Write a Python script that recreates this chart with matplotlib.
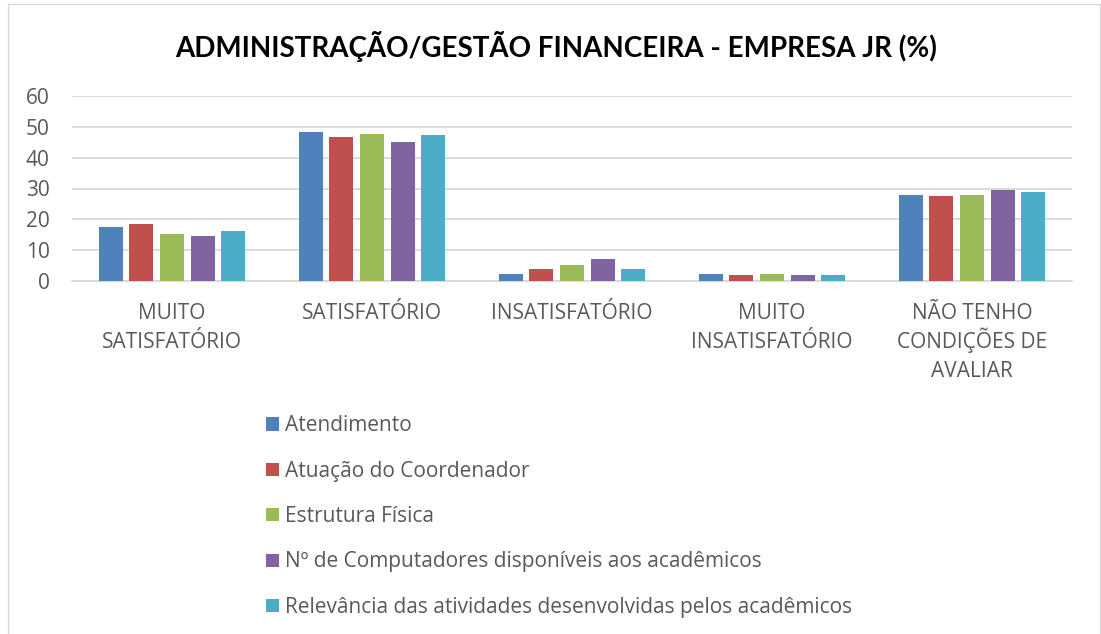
import matplotlib
matplotlib.use("Agg")
import matplotlib.pyplot as plt
from matplotlib.patches import Rectangle
import numpy as np

categories = ["MUITO\nSATISFATÓRIO", "SATISFATÓRIO", "INSATISFATÓRIO",
              "MUITO\nINSATISFATÓRIO", "NÃO TENHO\nCONDIÇÕES DE\nAVALIAR"]
series_names = ["Atendimento", "Atuação do Coordenador", "Estrutura Física",
                "Nº de Computadores disponíveis aos acadêmicos",
                "Relevância das atividades desenvolvidas pelos acadêmicos"]
atendimento = [17.4, 48.3, 2.4, 2.4, 28.0]
coordenador = [18.5, 46.7, 4.0, 1.8, 27.5]
estrutura = [15.2, 47.8, 5.1, 2.4, 28.0]
computadores = [14.7, 45.2, 7.1, 1.8, 29.6]
relevancia = [16.3, 47.3, 4.0, 1.8, 29.0]
series = [atendimento, coordenador, estrutura, computadores, relevancia]
colors = ["#4F81BD", "#C0504D", "#9BBB59", "#8064A2", "#4BACC6"]
yticks = [0, 10, 20, 30, 40, 50, 60]

font = "Open Sans"
txt = "#595959"

fig = plt.figure(figsize=(11.01, 6.34), dpi=100)
fig.patches.append(Rectangle((0.007, -0.01), 0.992, 1.003, transform=fig.transFigure,
                             fill=False, edgecolor="#D9D9D9", lw=1.0))
ax = fig.add_axes([72/1101, 1-281/634, (1072-72)/1101, (281-96)/634])

x = np.arange(len(categories))
pitch = 0.153
w = 0.12
for i, (vals, c, name) in enumerate(zip(series, colors, series_names)):
    ax.bar(x + (i - 2) * pitch, vals, width=w, color=c, label=name, zorder=3)

ax.set_xlim(-0.5, len(categories) - 0.5)
ax.set_ylim(0, 60)
ax.set_yticks(yticks)
ax.set_yticklabels([str(t) for t in yticks], fontsize=15, color=txt, family=font)
ax.yaxis.grid(True, color="#D9D9D9", lw=1.3, zorder=0)
ax.set_axisbelow(True)
for s in ["top", "right", "left"]:
    ax.spines[s].set_visible(False)
ax.spines["bottom"].set_color("#D9D9D9")
ax.spines["bottom"].set_linewidth(1.3)
ax.tick_params(axis="both", length=0)
ax.tick_params(axis="y", pad=16)
ax.set_xticks(x)
ax.set_xticklabels([""] * len(categories))

# category labels, one text per line for even line spacing
for xi, cat in zip(x, categories):
    for j, line in enumerate(cat.split("\n")):
        ax.annotate(line, xy=(xi, 0), xycoords=("data", "axes fraction"),
                    xytext=(0, -(27.6 + 20.9 * j)), textcoords="offset points",
                    ha="center", va="baseline", fontsize=15, color=txt,
                    family=font, annotation_clip=False)

fig.text(0.505, 1-47/634, "ADMINISTRAÇÃO/GESTÃO FINANCEIRA - EMPRESA JR (%)",
         ha="center", va="center", fontsize=20, fontweight="bold",
         family=["Liberation Sans Narrow", "Lato"], color="black")

leg = fig.legend(loc="upper left", bbox_to_anchor=(258/1101, 1-407/634), frameon=False,
                 prop={"family": font, "size": 15}, labelcolor=txt,
                 handlelength=0.6, handleheight=0.6, handletextpad=0.3,
                 labelspacing=1.17, borderaxespad=0)

fig.savefig("out.png", dpi=100)
